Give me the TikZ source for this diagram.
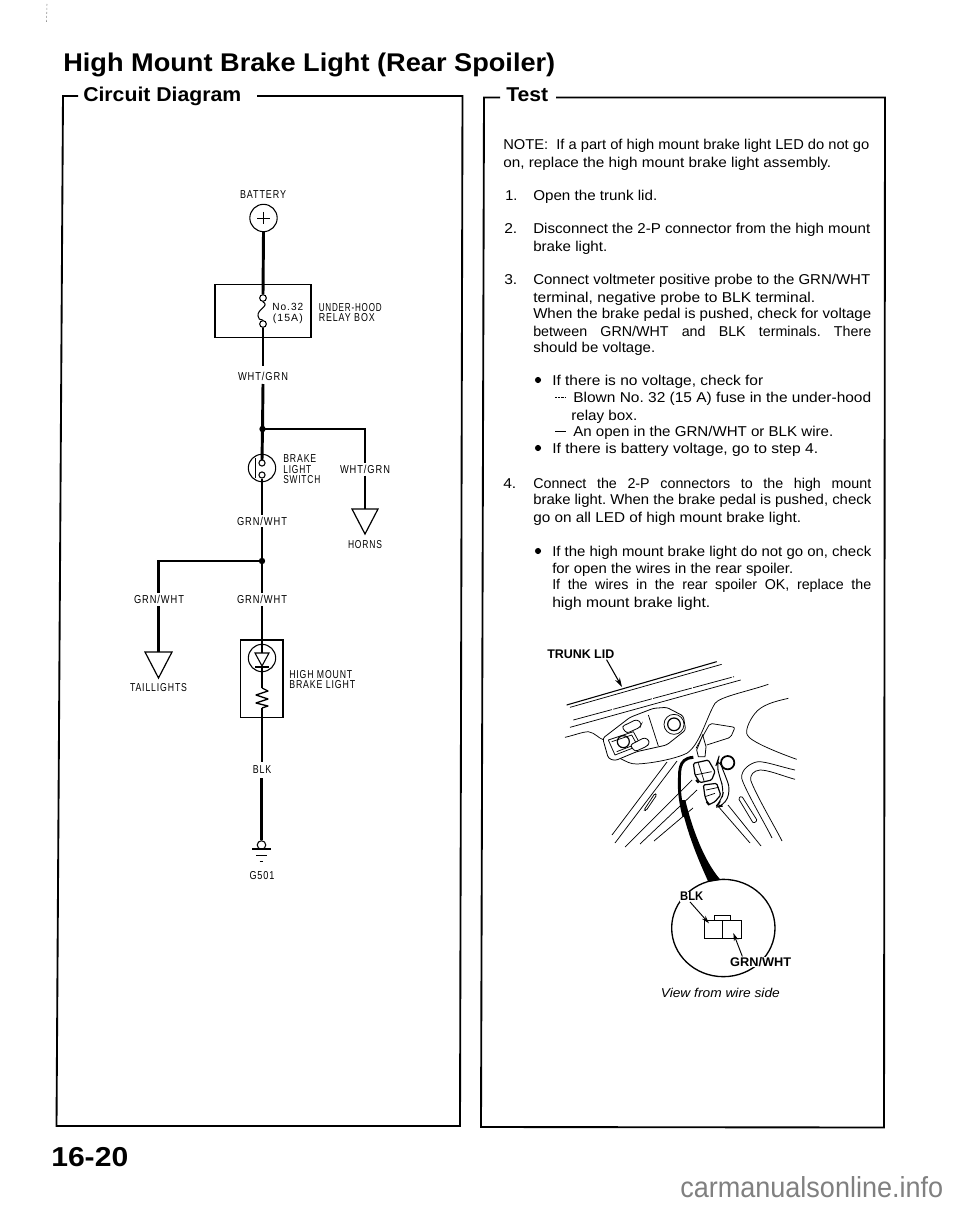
\documentclass[tikz,border=0pt]{standalone}
\usepackage{fontspec}
\usepackage{graphicx}
\setmainfont{Liberation Sans}
\newfontfamily\wirefont[LetterSpace=10]{Liberation Sans}
\usetikzlibrary{arrows.meta}
\frenchspacing
\newlength\fitlen
\newcounter{tn}
% fit text to a width given in reference pixels, by horizontal scale
\newcommand\fitw[2]{\settowidth\fitlen{#2}\pgfmathsetmacro\fitr{#1*0.75/\fitlen}\scalebox{\fitr}[1]{#2}}
% body text lines: x, y of the middle of the capitals, width, text
\newcommand\tl[4]{\stepcounter{tn}\node[bodytext,anchor=base west] (t\thetn) at (#1,#2+5) {\fitw{#3}{#4}};}
% justified by stretching word spaces
\newcommand\tj[4]{\stepcounter{tn}\node[bodytext,anchor=base west] (t\thetn) at (#1,#2+5) {\makebox[\dimexpr #3pt*3/4\relax][s]{#4}};}
\tikzset{
  wire/.style={line width=2.2pt},
  thin line/.style={line width=0.8pt},
  frameline/.style={line width=1.4pt},
  art/.style={line width=0.55pt},
  artw/.style={line width=0.6pt,fill=white},
  bodytext/.style={inner sep=0pt,font=\fontsize{10.7}{12}\selectfont,text=black},
  wlabel/.style={inner sep=0pt,font=\wirefont\fontsize{8.6}{10}\selectfont,text=black},
  wlabelw/.style={wlabel,anchor=base west},
  sym/.style={circle,draw,thin line,inner sep=0pt,fill=white},
  sbox/.style={rectangle,draw,line width=1pt,inner sep=0pt},
  tri/.style={line width=0.9pt,fill=white,line join=miter},
  bullet/.style={circle,fill=black,inner sep=0pt,minimum size=4.6pt},
  boldlabel/.style={inner sep=0pt,font=\bfseries\fontsize{9.4}{10}\selectfont},
  heading/.style={inner sep=0pt,anchor=base west,font=\bfseries\fontsize{15}{16}\selectfont},
}
\begin{document}
\begin{tikzpicture}[x=0.75pt,y=-0.75pt]
\useasboundingbox (0,0) rectangle (960,1205);
\fill[white] (0,0) rectangle (960,1205);
% scan mark
\draw[black!45,line width=0.4pt,dash pattern=on 1.5pt off 1.5pt] (47,4) -- (46.5,22);
% headings
\node[heading,font=\bfseries\fontsize{19.2}{20}\selectfont] (title) at (63,71.7) {\fitw{492}{High Mount Brake Light (Rear Spoiler)}};
\node[heading] (hcirc) at (83,102) {\fitw{158}{Circuit Diagram}};
\node[heading] (htest) at (506,102) {\fitw{42}{Test}};
\node[heading,font=\bfseries\fontsize{20.5}{22}\selectfont] (pageno) at (51,1166) {\fitw{77}{16-20}};
\node[heading,font=\fontsize{21.7}{23}\selectfont,text=black!50] (mark) at (680,1197) {\fitw{263}{carmanualsonline.info}};
% frames
\draw[frameline] (78,96) -- (63,96) -- (56.5,1126) -- (460,1126) -- (462.5,96) -- (257,96);
\draw[frameline] (500,97.5) -- (484,97.5) -- (481,1127) -- (884,1127.5) -- (885,97.5) -- (556,97.5);

% ---- circuit
\node[sym,minimum size=20.5pt] (batt) at (263.5,218) {};
\draw[line width=0.5pt] (257,218) -- (270,218) (263.5,212) -- (263.5,224);
\node[wlabel] (lbatt) at (263,195) {\fitw{46}{BATTERY}};
\node[sbox,minimum width=72pt,minimum height=39.5pt] (relay) at (263,311) {};
\node[sym,minimum size=5pt] (f1) at (263,298) {};
\node[sym,minimum size=5pt] (f2) at (263,324) {};
\draw[thin line] (f1.south) .. controls (270,306) and (257,309) .. (258,316) .. controls (258,319) and (260,320) .. (f2.north);
\draw[wire] (batt.south) -- (f1.north);
\node[wlabelw,font=\wirefont\fontsize{7.8}{9}\selectfont] (lno) at (272,310.5) {\fitw{31}{No.32}};
\node[wlabelw,font=\wirefont\fontsize{7.8}{9}\selectfont] (lamp) at (272.5,321) {\fitw{30}{(15A)}};
\node[wlabelw] (lunder) at (318.5,311) {\fitw{63}{UNDER-HOOD}};
\node[wlabelw] (lrelay) at (318.5,321) {\fitw{56}{RELAY BOX}};
\node[wlabel] (lwg) at (263,376) {\fitw{50}{WHT/GRN}};
\draw[wire] (f2.south) -- (263,366);
\coordinate (j1) at (262.5,429);
\fill (j1) circle (3.2);
\draw[wire] (263,384) -- (j1);
\node[sym,minimum size=20.5pt] (sw) at (262,468) {};
\draw[wire] (j1) -- (262,460);
\node[sym,minimum size=4.6pt] (s1) at (262,463) {};
\node[sym,minimum size=4.6pt] (s2) at (262,475) {};
\draw[thin line] (255.5,458) -- (255.5,478);
\draw[wire] (s2.south) -- (262,482);
\node[wlabelw] (lb1) at (283,462) {\fitw{33}{BRAKE}};
\node[wlabelw] (lb2) at (283,473) {\fitw{28}{LIGHT}};
\node[wlabelw] (lb3) at (283,483.5) {\fitw{37}{SWITCH}};
% horn branch
\node[wlabel] (lwg2) at (365,469) {\fitw{50}{WHT/GRN}};
\coordinate (hornin) at (365,509);
\draw[wire] (j1) -| (365,463);
\draw[wire] (365,475.5) -- (hornin);
\draw[tri] (352,509) -- (378,509) -- (365,534) -- cycle;
\node[wlabel] (lhorn) at (365,544.5) {\fitw{34}{HORNS}};
% lower
\node[wlabel] (lgw1) at (262,521) {\fitw{50}{GRN/WHT}};
\draw[wire] (sw.south) -- (262,515);
\coordinate (j2) at (262,561);
\fill (j2) circle (3.2);
\draw[wire] (262,527) -- (j2);
\node[wlabel] (lgw2) at (159,599) {\fitw{50}{GRN/WHT}};
\draw[wire] (j2) -| (158.5,593);
\draw[wire] (158.5,606) -- (158.5,652);
\draw[tri] (145,652) -- (172,652) -- (158.5,678) -- cycle;
\node[wlabel] (ltail) at (158.5,687.5) {\fitw{57}{TAILLIGHTS}};
\node[wlabel] (lgw3) at (262,599.5) {\fitw{50}{GRN/WHT}};
\draw[wire] (j2) -- (262,593);
% high mount
\node[sbox,minimum width=32pt,minimum height=58pt] (hm) at (261.5,678.5) {};
\node[sym,minimum size=20.5pt] (led) at (262,658) {};
\draw[wire] (262,606) -- (262,653);
\draw[thin line,fill=white] (255,653) -- (269,653) -- (262,666) -- cycle;
\draw[line width=1.1pt] (255,667) -- (269,667);
\draw[wire] (262,667) -- (262,688);
\draw[line width=1pt,line join=round] (262,688) -- (268,691) -- (256,695) -- (268,699) -- (256,703) -- (268,706) -- (262,708);
\draw[wire] (262,708) -- (262,762);
\node[wlabelw] (lh1) at (289,678) {\fitw{63}{HIGH MOUNT}};
\node[wlabelw] (lh2) at (289,688) {\fitw{66}{BRAKE LIGHT}};
\node[wlabel] (lblk) at (262,770) {\fitw{18.5}{BLK}};
\node[sym,minimum size=6.4pt] (g0) at (261.5,845) {};
\draw[wire] (261.5,778) -- (g0.north);
\draw[line width=0.8pt] (252,849) -- (271,849);
\draw[line width=0.6pt] (256,855.5) -- (267,855.5);
\draw[line width=0.6pt] (259.5,861.5) -- (263,861.5);
\node[wlabel] (lg) at (262,876) {\fitw{25}{G501}};

% ---- test text
\tl{503}{145}{366}{NOTE:\ \ If a part of high mount brake light LED do not go}
\tl{503}{163}{328}{on, replace the high mount brake light assembly.}
\tl{505}{196}{12}{1.}
\tl{533}{196}{124}{Open the trunk lid.}
\tl{504}{229}{13}{2.}
\tl{533}{229}{337}{Disconnect the 2-P connector from the high mount}
\tl{533}{247}{74}{brake light.}
\tl{504}{280}{13}{3.}
\tl{533}{280}{337}{Connect voltmeter positive probe to the GRN/WHT}
\tl{533}{297}{282}{terminal, negative probe to BLK terminal.}
\tl{533}{314}{338}{When the brake pedal is pushed, check for voltage}
\tj{533}{331}{338}{between GRN/WHT and BLK terminals. There}
\tl{533}{347}{122}{should be voltage.}
\node[bullet] (b1) at (538,380) {};
\tl{552}{380}{211}{If there is no voltage, check for}
\draw[line width=0.5pt,dash pattern=on 1.6pt off 0.8pt] (555,397) -- (566,397);
\tl{573}{397}{298}{Blown No. 32 (15 A) fuse in the under-hood}
\tl{571}{415}{66}{relay box.}
\draw[line width=0.6pt] (555,431) -- (566,431);
\tl{573}{431}{260}{An open in the GRN/WHT or BLK wire.}
\node[bullet] (b2) at (538,448) {};
\tl{552}{448}{266}{If there is battery voltage, go to step 4.}
\tl{503}{483}{13}{4.}
\tj{533}{483}{338}{Connect the 2-P connectors to the high mount}
\tl{533}{499}{338}{brake light. When the brake pedal is pushed, check}
\tl{533}{517}{268}{go on all LED of high mount brake light.}
\node[bullet] (b3) at (538,551) {};
\tl{552}{551}{319}{If the high mount brake light do not go on, check}
\tl{552}{568}{241}{for open the wires in the rear spoiler.}
\tj{552}{584}{319}{If the wires in the rear spoiler OK, replace the}
\tl{552}{602}{158}{high mount brake light.}

% ---- trunk illustration (coordinates of a 3x crop at 520,630)
\node[boldlabel,anchor=west] (ltrunk) at (547,654) {\fitw{67}{TRUNK LID}};
\coordinate (trunkarrow) at (622,687);
\draw[line width=0.8pt,-{Stealth[length=7pt,width=4pt]}] (ltrunk.south east) ++(-8,1) -- (trunkarrow);
% hatch lines, in page coordinates
\draw[art] (667,762) -- (612,835) (677,761) -- (615,843) (692,780) -- (625,847) (697,790) -- (640,844) (693,808) -- (654,841);
\draw[art] (717,805) -- (750,843) (728,805) -- (761,846);
\begin{scope}[shift={(520,630)},x=0.25pt,y=-0.25pt]
\draw[line width=0.8pt] (140,225) -- (590,95);
\draw[art] (150,232) -- (605,103);
\draw[art,dash pattern=on 30pt off 1pt] (160,270) -- (642,140);
\draw[art] (150,292) -- (662,150);
\draw[art] (135,322) .. controls (165,315) and (190,305) .. (205,305) .. controls (225,308) and (235,325) .. (252,330);
\draw[art] (300,385) .. controls (320,395) and (330,402) .. (350,402) .. controls (400,400) and (470,385) .. (500,370) .. controls (540,345) and (560,260) .. (585,220) .. controls (600,200) and (680,185) .. (745,163);
\draw[art] (805,205) .. controls (760,215) and (725,225) .. (705,250) .. controls (685,275) and (675,305) .. (682,315) .. controls (690,335) and (780,370) .. (830,388);
\draw[art] (825,420) .. controls (780,410) and (740,395) .. (715,395) .. controls (690,398) and (662,420) .. (665,445) .. controls (675,480) and (740,590) .. (756,624);
\draw[art] (825,448) .. controls (780,435) and (745,420) .. (720,420) .. controls (700,422) and (690,435) .. (692,450) .. controls (705,490) and (770,600) .. (786,633);
% slots
\draw[art,rounded corners=1pt] (372,540) -- (405,490) -- (410,495) -- (378,542) -- cycle;
\draw[art,rounded corners=1pt] (655,505) -- (665,498) -- (712,572) -- (700,580) -- cycle;
% hinge
\draw[artw,rounded corners=2pt] (248,325) -- (330,262) -- (400,235) -- (440,232) -- (490,258) -- (497,300) -- (440,345) -- (350,365) -- (285,392) -- (265,385) -- cycle;
\draw[art] (385,255) -- (415,348);
\draw[art] (462,283) circle (30);
\draw[line width=0.9pt] (462,283) circle (19);
\draw[art,fill=white,line join=round] (265,330) -- (340,305) -- (362,345) -- (285,375) -- cycle;
\draw[art] (275,335) -- (335,315) -- (350,342) -- (290,365);
\draw[line width=0.9pt] (310,335) circle (18);
\draw[artw,rounded corners=2pt] (305,290) -- (350,268) -- (365,280) -- (360,292) -- (320,310) -- cycle;
\draw[artw,rounded corners=2pt] (330,345) -- (375,322) -- (390,335) -- (382,348) -- (345,365) -- cycle;
% bracket and connector
\draw[art,rounded corners=1.5pt] (528,355) -- (570,280) -- (645,292) -- (632,322) -- (560,345);
\draw[artw] (530,360) -- (548,315) -- (558,350) -- (555,380) -- (535,380) -- cycle;
% blob and loom
\draw[line width=1.3pt,fill=white] (623,398) circle (20);
\draw[line width=0.7pt,rounded corners=6pt,fill=white] (595,385) -- (615,435) -- (632,480) -- (612,528) -- (585,532) -- (605,510) -- (612,478) -- (598,440) -- (590,400) -- cycle;
\draw[line width=0.9pt,fill=white,rounded corners=1pt] (520,400) -- (565,390) -- (585,425) -- (575,450) -- (540,458) -- (525,435) -- cycle;
\draw[art] (535,400) -- (552,452) (525,435) -- (575,425);
\draw[line width=1.5pt] (528,450) -- (536,458);
\draw[line width=0.9pt,fill=white,rounded corners=1pt] (550,465) -- (590,460) -- (602,495) -- (585,515) -- (565,525) -- (555,500) -- cycle;
\draw[art] (558,480) -- (596,472) (555,500) -- (585,490);
\draw[line width=1.5pt] (560,515) -- (568,525);
% black wire
\draw[line width=2.2pt] (520,382) .. controls (470,385) and (480,430) .. (478,470) .. controls (479,500) and (484,530) .. (492,560);
\end{scope}
% ---- taper of the wire and view detail (coordinates of a 3x crop at 560,820)
\begin{scope}[shift={(560,820)},x=0.25pt,y=-0.25pt]
\fill (360,-60) -- (376,-60) .. controls (385,-20) and (420,110) .. (482,180) -- (445,186) .. controls (430,150) and (385,60) .. (360,-60) -- cycle;
% detail circle
\draw[line width=1pt] (490,324) ellipse (155 and 146);
% connector
\draw[line width=0.7pt] (432,300) rectangle (545,355);
\draw[line width=0.7pt] (488,300) -- (488,355);
\draw[line width=0.7pt] (462,300) -- (462,285) -- (512,285) -- (512,300);
\node[boldlabel,fill=white,inner sep=0.5pt] (lblk2) at (395,230) {\fitw{23}{BLK}};
\node[boldlabel,fill=white,inner sep=0.5pt] (lgw4) at (602,426) {\fitw{61}{GRN/WHT}};
\coordinate (pinb) at (447,310);
\coordinate (ping) at (520,339);
\draw[line width=0.7pt,-{Stealth[length=6pt,width=3.5pt]}] (lblk2.south) ++(-5,0) -- (pinb);
\draw[line width=0.7pt,-{Stealth[length=6pt,width=3.5pt]}] (lgw4.north) ++(-55,0) -- (ping);
\node[inner sep=0pt,font=\itshape\fontsize{9.6}{11}\selectfont] (lview) at (481,519) {\fitw{119}{View from wire side}};
\end{scope}
\end{tikzpicture}
\end{document}
